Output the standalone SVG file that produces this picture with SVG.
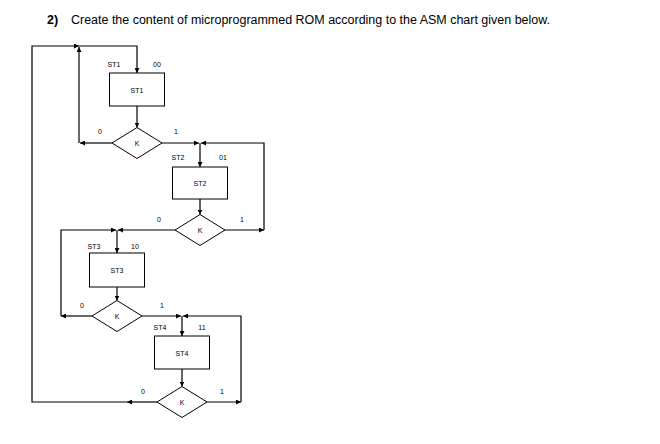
<svg xmlns="http://www.w3.org/2000/svg" width="660" height="444" viewBox="0 0 660 444">
<style>
.ln{fill:none;stroke:#000;stroke-width:1.2}
.ar{fill:none;stroke:#000;stroke-width:1.2;marker-end:url(#ah)}
.bx{fill:#fff;stroke:#000;stroke-width:1}
.t{font-family:"Liberation Sans",Arial,sans-serif;font-size:7px;fill:#000;text-anchor:middle}
.ttl{font-family:"Liberation Sans",Arial,sans-serif;font-size:12.5px;fill:#000}
</style>
<defs>
<marker id="ah" viewBox="0 0 10 10" refX="10" refY="5" markerWidth="5" markerHeight="5" markerUnits="userSpaceOnUse" orient="auto">
<path d="M0,0 L10,5 L0,10 z" fill="#000"/>
</marker>
</defs>
<rect width="660" height="444" fill="#fff"/>
<text class="ttl" x="47" y="24" font-weight="bold" font-size="14">2)</text>
<text class="ttl" x="71" y="24" textLength="479" lengthAdjust="spacingAndGlyphs">Create the content of microprogrammed ROM according to the ASM chart given below.</text>
<g id="connectors">
<path class="ar" d="M157,402 H127"/>
<path class="ar" d="M127,402 H32 V46 H79"/>
<path class="ar" d="M79,46 H137 V73"/>
<path class="ar" d="M112,143 H80"/>
<path class="ar" d="M79,143 V47"/>
<path class="ar" d="M137,106 V127.5"/>
<path class="ar" d="M162,143 H199"/>
<path class="ar" d="M225,230 H264"/>
<path class="ar" d="M264,230 V143 H201"/>
<path class="ar" d="M200,143 V167"/>
<path class="ar" d="M200,199 V214.5"/>
<path class="ar" d="M175,230 H118"/>
<path class="ar" d="M92,316 H61"/>
<path class="ar" d="M61,316 V230 H116"/>
<path class="ar" d="M117,230 V253"/>
<path class="ar" d="M117,287 V300.5"/>
<path class="ar" d="M142,316 H181"/>
<path class="ar" d="M207,402 H241"/>
<path class="ar" d="M241,402 V316 H183"/>
<path class="ar" d="M182,316 V336"/>
<path class="ar" d="M182,369 V386.5"/>
</g>
<g id="st1">
<text class="t" x="114" y="66.5">ST1</text>
<text class="t" x="157" y="66.5">00</text>
<rect class="bx" x="109.5" y="73" width="55" height="33"/>
<text class="t" x="137" y="92.5">ST1</text>
</g>
<g id="k1">
<polygon class="bx" points="112,143 137,127.5 162,143 137,158.5"/>
<text class="t" x="137" y="145.5">K</text>
<text class="t" x="100" y="134">0</text>
<text class="t" x="176" y="134">1</text>
</g>
<g id="st2">
<text class="t" x="178" y="159.5">ST2</text>
<text class="t" x="223" y="159.5">01</text>
<rect class="bx" x="172.5" y="167" width="55" height="32"/>
<text class="t" x="200" y="186">ST2</text>
</g>
<g id="k2">
<polygon class="bx" points="175,230 200,214.5 225,230 200,245.5"/>
<text class="t" x="200" y="232.5">K</text>
<text class="t" x="159" y="221.5">0</text>
<text class="t" x="242" y="221.5">1</text>
</g>
<g id="st3">
<text class="t" x="94" y="248.5">ST3</text>
<text class="t" x="135" y="248.5">10</text>
<rect class="bx" x="89.5" y="253" width="55" height="34"/>
<text class="t" x="117" y="272.5">ST3</text>
</g>
<g id="k3">
<polygon class="bx" points="92,316 117,300.5 142,316 117,331.5"/>
<text class="t" x="117" y="318.5">K</text>
<text class="t" x="82" y="307.5">0</text>
<text class="t" x="162" y="307.5">1</text>
</g>
<g id="st4">
<text class="t" x="160" y="329.5">ST4</text>
<text class="t" x="202" y="329.5">11</text>
<rect class="bx" x="154.5" y="336" width="55" height="33"/>
<text class="t" x="182" y="355.5">ST4</text>
</g>
<g id="k4">
<polygon class="bx" points="157,402 182,386.5 207,402 182,417.5"/>
<text class="t" x="182" y="404.5">K</text>
<text class="t" x="143" y="393.5">0</text>
<text class="t" x="222" y="393.5">1</text>
</g>
</svg>
